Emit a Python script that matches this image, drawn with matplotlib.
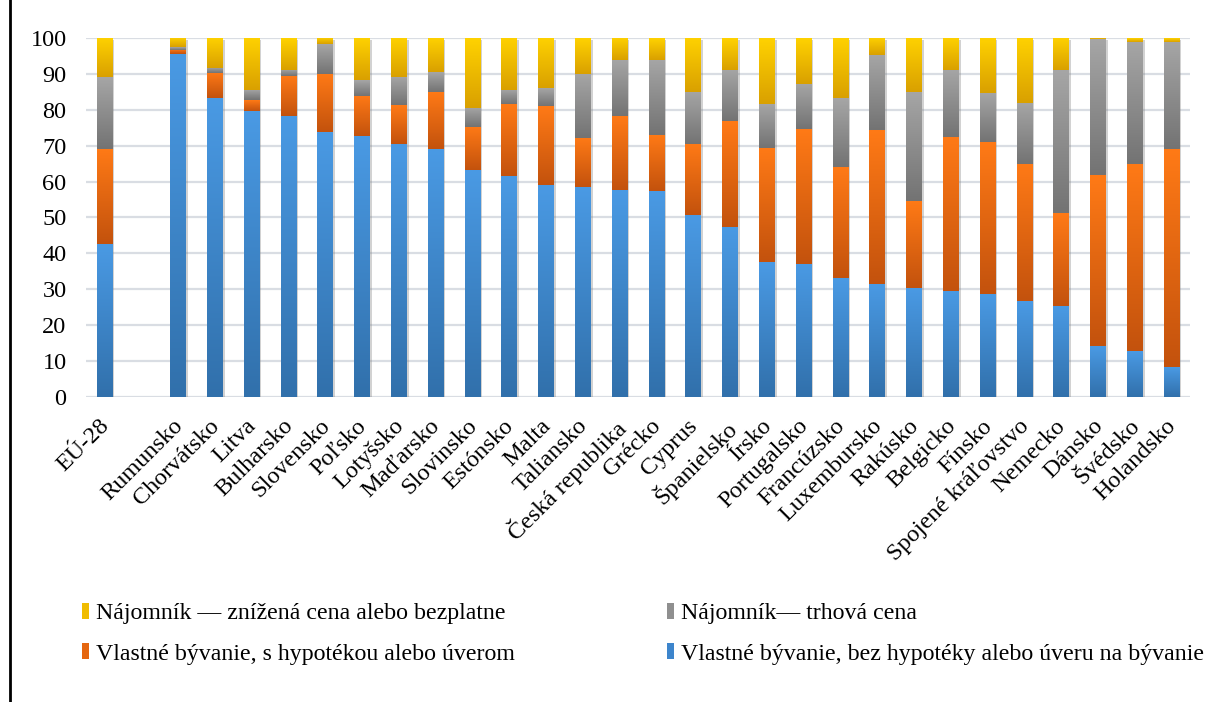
import numpy as np
import matplotlib
matplotlib.use("Agg")
import matplotlib.pyplot as plt
from matplotlib.colors import LinearSegmentedColormap
from matplotlib.patches import Patch
from matplotlib.lines import Line2D
from matplotlib.transforms import ScaledTranslation
import matplotlib.patheffects as pe

plt.rcParams["font.family"] = ["Liberation Serif", "DejaVu Serif"]

categories = ["EÚ-28", "", "Rumunsko", "Chorvátsko", "Litva", "Bulharsko", "Slovensko",
              "Poľsko", "Lotyšsko", "Maďarsko", "Slovinsko", "Estónsko", "Malta",
              "Taliansko", "Česká republika", "Grécko", "Cyprus", "Španielsko", "Írsko",
              "Portugalsko", "Francúzsko", "Luxembursko", "Rakúsko", "Belgicko", "Fínsko",
              "Spojené kráľovstvo", "Nemecko", "Dánsko", "Švédsko", "Holandsko"]

nan = np.nan
own_outright = [42.5, nan, 95.5, 83.2, 79.6, 78.2, 73.7, 72.6, 70.4, 69.0, 63.1, 61.5, 59.0,
                58.4, 57.6, 57.3, 50.6, 47.3, 37.5, 37.1, 33.1, 31.6, 30.3, 29.4, 28.6,
                26.6, 25.3, 14.1, 12.7, 8.3]
own_mortgage = [26.5, nan, 1.2, 7.0, 3.0, 11.2, 16.3, 11.2, 10.8, 15.9, 12.0, 20.0, 22.0,
                13.7, 20.6, 15.6, 19.8, 29.5, 31.8, 37.5, 30.9, 42.7, 24.2, 42.9, 42.3,
                38.2, 25.9, 47.6, 52.1, 60.7]
rent_market = [20.0, nan, 0.7, 1.4, 2.8, 1.7, 8.3, 4.4, 7.8, 5.5, 5.5, 3.9, 5.0,
               18.0, 15.6, 21.1, 14.5, 14.4, 12.4, 12.7, 19.2, 20.9, 30.4, 18.7, 13.7,
               17.0, 39.8, 37.9, 34.2, 30.0]
rent_reduced = [11.0, nan, 2.6, 8.4, 14.6, 8.9, 1.7, 11.8, 11.0, 9.6, 19.4, 14.6, 14.0,
                9.9, 6.2, 6.0, 15.1, 8.8, 18.3, 12.7, 16.8, 4.8, 15.1, 9.0, 15.4,
                18.2, 9.0, 0.4, 1.0, 1.0]

series = [
    ("Vlastné bývanie, bez hypotéky alebo úveru na bývanie", own_outright, ("#4a9ae4", "#3170ab")),
    ("Vlastné bývanie, s hypotékou alebo úverom", own_mortgage, ("#ff7a16", "#c3520d")),
    ("Nájomník— trhová cena", rent_market, ("#a6a6a6", "#737373")),
    ("Nájomník — znížená cena alebo bezplatne", rent_reduced, ("#ffd200", "#d9a000")),
]

FS = 17.5
FS_LEG = 17.2

fig = plt.figure(figsize=(12.09, 7.02), dpi=100)
ax = fig.add_axes([0.0711, 0.4345, 0.9843 - 0.0711, 0.9459 - 0.4345])

x = np.arange(len(categories))
bottom = np.zeros(len(categories))
grad = np.linspace(1, 0, 256).reshape(-1, 1)
width = 0.42

for label, vals, (c_top, c_bot) in series:
    vals = np.array(vals, dtype=float)
    cmap = LinearSegmentedColormap.from_list(label, [c_bot, c_top])
    bars = ax.bar(x, np.nan_to_num(vals), width, bottom=bottom, color=c_top,
                  linewidth=0, zorder=3,
                  path_effects=[pe.SimplePatchShadow(offset=(1.5, -1.5), shadow_rgbFace="#7f7f7f", alpha=0.35),
                                pe.Normal()])
    # vertical gradient inside each segment
    for bar, v in zip(bars, vals):
        if np.isnan(v) or v <= 0:
            continue
        x0, y0 = bar.get_x(), bar.get_y()
        im = ax.imshow(grad, extent=[x0, x0 + bar.get_width(), y0, y0 + bar.get_height()],
                       cmap=cmap, vmin=0, vmax=1, aspect="auto", origin="upper",
                       interpolation="bilinear", zorder=4)
        im.set_clip_path(bar)
    bottom += np.nan_to_num(vals)

ax.set_xlim(-0.5, len(categories) - 0.5)
ax.set_ylim(0, 100)
ax.set_yticks(np.arange(0, 101, 10))
ax.yaxis.grid(True, color="#d9dde3", linewidth=1.6, zorder=0)
ax.set_axisbelow(True)
for s in ax.spines.values():
    s.set_visible(False)

ax.set_xticks(x)
ax.set_xticklabels(categories, rotation=45, ha="right", va="top",
                   rotation_mode="anchor", fontsize=FS)
ax.tick_params(axis="x", length=0, pad=4)
ax.tick_params(axis="y", length=0, pad=14, labelsize=FS)
shift = ScaledTranslation(-6 / 100, -13 / 100, fig.dpi_scale_trans)
for t in ax.get_xticklabels():
    t.set_transform(t.get_transform() + shift)

# Legend in two columns under the plot
col1 = [Patch(facecolor="#f0bc00", edgecolor="none"), Patch(facecolor="#e5660f", edgecolor="none")]
col2 = [Patch(facecolor="#8f8f8f", edgecolor="none"), Patch(facecolor="#3d85cc", edgecolor="none")]
lab1 = [series[3][0], series[1][0]]
lab2 = [series[2][0], series[0][0]]
common = dict(frameon=False, fontsize=FS_LEG, handlelength=0.3, handleheight=0.65,
              handletextpad=0.3, labelspacing=0.8, borderpad=0, borderaxespad=0)
fig.legend(col1, lab1, loc="upper left", bbox_to_anchor=(82 / 1209, 1 - 603 / 702), **common)
fig.legend(col2, lab2, loc="upper left", bbox_to_anchor=(667 / 1209, 1 - 603 / 702), **common)

# left frame edge
fig.add_artist(Line2D([9.5 / 1209, 9.5 / 1209], [0, 1], color="black", linewidth=2,
                      transform=fig.transFigure))

fig.savefig("out.png", dpi=100)
